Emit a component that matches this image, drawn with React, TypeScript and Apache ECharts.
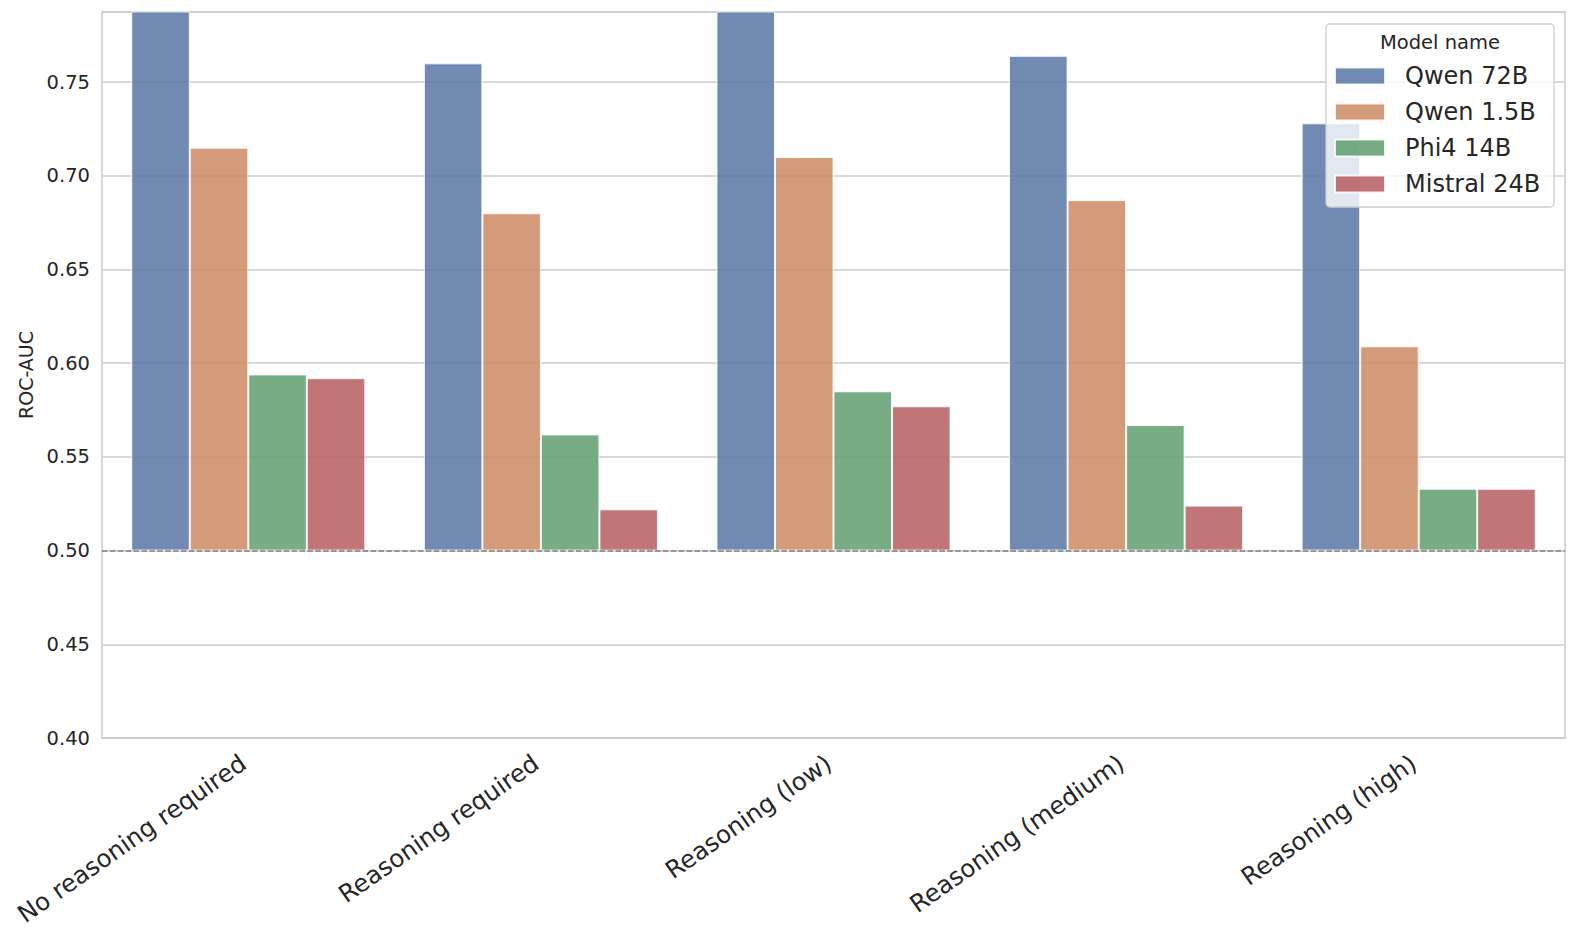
import React, { useEffect, useRef } from "react";
import * as echarts from "echarts";

const categories = [
  "No reasoning required",
  "Reasoning required",
  "Reasoning (low)",
  "Reasoning (medium)",
  "Reasoning (high)",
];
const modelNames = ["Qwen 72B", "Qwen 1.5B", "Phi4 14B", "Mistral 24B"];
const qwen72 = [0.8, 0.76, 0.8, 0.764, 0.728];
const qwen15 = [0.715, 0.68, 0.71, 0.687, 0.609];
const phi4 = [0.594, 0.562, 0.585, 0.567, 0.533];
const mistral = [0.592, 0.522, 0.577, 0.524, 0.533];
const seriesValues = [qwen72, qwen15, phi4, mistral];
const baseline = 0.5;
const yMin = 0.4;
const yMax = 0.7874;
const yInterval = 0.05;
const colors = ["#5875a4", "#cc8963", "#5f9e6e", "#b55d60"];
const textColor = "#262626";
const font = "DejaVu Sans";

export default function App() {
  const ref = useRef<HTMLDivElement>(null);
  useEffect(() => {
    if (!ref.current) return;
    const chart = echarts.init(ref.current, undefined, { renderer: "svg" });
    const series: any[] = [];
    seriesValues.forEach((vals, i) => {
      series.push({
        type: "bar",
        name: "__base" + i,
        stack: "s" + i,
        silent: true,
        barCategoryGap: "20%",
        barGap: "0%",
        data: vals.map(() => baseline),
        itemStyle: { color: "rgba(0,0,0,0)" },
      });
      const s: any = {
        type: "bar",
        name: modelNames[i],
        stack: "s" + i,
        barCategoryGap: "20%",
        barGap: "0%",
        data: vals.map((v) => v - baseline),
        itemStyle: {
          color: colors[i],
          opacity: 0.85,
          borderColor: "#ffffff",
          borderWidth: 1,
        },
      };
      if (i === 0) {
        s.markLine = {
          silent: true,
          symbol: ["none", "none"],
          label: { show: false },
          lineStyle: { color: "#7f7f7f", type: [5.5, 2.4], width: 1.5 },
          data: [{ yAxis: baseline }],
          z: 10,
        };
      }
      series.push(s);
    });

    chart.setOption({
      animation: false,
      backgroundColor: "#ffffff",
      textStyle: { fontFamily: font, color: textColor },
      grid: {
        left: 102,
        right: 12,
        top: 12,
        bottom: 200,
        show: true,
        borderColor: "#cccccc",
        borderWidth: 1.5,
        backgroundColor: "transparent",
      },
      xAxis: {
        type: "category",
        data: categories,
        axisLine: { show: true, lineStyle: { color: "#cccccc", width: 1.5 } },
        axisTick: { show: false },
        splitLine: { show: false },
        axisLabel: {
          interval: 0,
          rotate: 35,
          margin: 19,
          fontSize: 24.5,
          padding: [0, 6, 0, 0],
          color: textColor,
          fontFamily: font,
        },
      },
      yAxis: {
        type: "value",
        min: yMin,
        max: yMax,
        interval: yInterval,
        name: "ROC-AUC",
        nameLocation: "middle",
        nameGap: 66,
        nameTextStyle: { fontSize: 19, color: textColor, fontFamily: font },
        axisLine: { show: false },
        axisTick: { show: false },
        splitLine: { show: true, lineStyle: { color: "#cccccc", width: 1.5 } },
        axisLabel: {
          showMaxLabel: false,
          margin: 12,
          fontSize: 19.5,
          color: textColor,
          fontFamily: font,
          formatter: (v: number) => v.toFixed(2),
        },
      },
      legend: {
        data: modelNames,
        orient: "vertical",
        left: 1329,
        top: 59,
        itemWidth: 50,
        itemHeight: 17,
        itemGap: 12,
        icon: "rect",
        selectedMode: false,
        z: 20,
        textStyle: {
          fontSize: 24,
          lineHeight: 24,
          color: textColor,
          fontFamily: font,
          padding: [0, 0, 0, 15],
        },
      },
      graphic: [
        {
          type: "rect",
          z: 15,
          shape: { x: 1326, y: 24, width: 228, height: 183, r: 4 },
          style: {
            fill: "rgba(255,255,255,0.8)",
            stroke: "#cccccc",
            lineWidth: 1.3,
          },
        },
        {
          type: "text",
          z: 20,
          x: 1440,
          y: 42,
          style: {
            text: "Model name",
            fontSize: 19.5,
            fontFamily: font,
            fill: textColor,
            align: "center",
            verticalAlign: "middle",
          },
        },
      ],
      series,
    });
    return () => chart.dispose();
  }, []);
  return (
    <div
      ref={ref}
      style={{ position: "fixed", left: 0, top: 0, width: 1577, height: 938 }}
    />
  );
}
